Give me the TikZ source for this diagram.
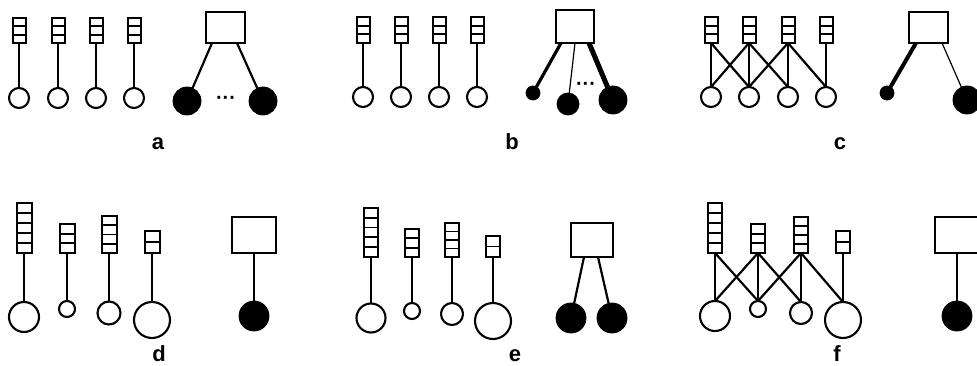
\documentclass[tikz,border=0pt]{standalone}
\usepackage{fontspec}
\setmainfont{Liberation Sans}
\usetikzlibrary{calc}
\tikzset{
  stackbox/.style={draw, line width=2pt, inner sep=0pt, outer sep=0pt, fill=white},
  divider/.style={line width=1.8pt},
  ocirc/.style={circle, draw, line width=2.1pt, inner sep=0pt, outer sep=0pt, fill=white},
  fcirc/.style={circle, draw, fill=black, line width=0.8pt, inner sep=0pt, outer sep=0pt},
  bigbox/.style={rectangle, draw, line width=2.3pt, inner sep=0pt, outer sep=0pt},
  conn/.style={line width=2.2pt},
  dotsn/.style={inner sep=0pt, font=\fontsize{20}{22}\selectfont\bfseries},
  lab/.style={anchor=base, inner sep=0pt, font=\fontsize{22}{26}\selectfont\bfseries}
}
\newcommand\stk[6]{%
  \pgfmathsetmacro\stkh{#4-#3}%
  \pgfmathsetmacro\stkc{(#3+#4)/2}%
  \node[stackbox, minimum width=#6pt, minimum height=\stkh pt] (#1) at (#2,\stkc) {};
  \pgfmathtruncatemacro\stkm{#5-1}%
  \foreach \k in {1,...,\stkm}{\draw[divider] ($(#1.north west)!\k/#5!(#1.south west)$) -- ($(#1.north east)!\k/#5!(#1.south east)$);}%
}
\begin{document}
\begin{tikzpicture}[x=1pt,y=-1pt]
\useasboundingbox (0,0) rectangle (977,366);
% ---------------- panel a
\stk{sa1}{19}{18}{43}{3}{13}
\stk{sa2}{58}{18}{43}{3}{13}
\stk{sa3}{96}{18}{43}{3}{13}
\stk{sa4}{134}{18}{43}{3}{13}
\foreach \i/\x in {1/19,2/58,3/96,4/134}{
  \node[ocirc, minimum size=20pt] (oa\i) at (\x,98) {};
  \draw[conn] (sa\i.south) -- (oa\i.north);
}
\node[bigbox, minimum width=39pt, minimum height=31pt] (ba) at (225.5,27.5) {};
\node[fcirc, minimum size=28pt] (qa1) at (187,101) {};
\node[fcirc, minimum size=28pt] (qa2) at (263,101) {};
\draw[conn] ([xshift=6pt]ba.south west) -- (qa1);
\draw[conn] ([xshift=-8pt]ba.south east) -- (qa2);
\node[dotsn] (ta) at (226,100) {···};
\node[lab] (la) at (158,150) {a};
% ---------------- panel b
\stk{sb1}{363}{17}{43}{3}{13}
\stk{sb2}{401}{17}{43}{3}{13}
\stk{sb3}{439}{17}{43}{3}{13}
\stk{sb4}{477}{17}{43}{3}{13}
\foreach \i/\x in {1/363,2/401,3/439,4/477}{
  \node[ocirc, minimum size=20pt] (ob\i) at (\x,97) {};
  \draw[conn] (sb\i.south) -- (ob\i.north);
}
\node[bigbox, minimum width=38pt, minimum height=33pt] (bb) at (575,26.5) {};
\node[fcirc, minimum size=14pt] (qb1) at (533,93) {};
\node[fcirc, minimum size=22pt] (qb2) at (568,104) {};
\node[fcirc, minimum size=28pt] (qb3) at (613,100) {};
\draw[line width=3.2pt] ([xshift=5pt]bb.south west) -- (qb1);
\draw[line width=1.2pt] (bb.south) -- (qb2);
\draw[line width=5pt] ([xshift=-5pt]bb.south east) -- (qb3);
\node[dotsn] (tb) at (586,86) {···};
\node[lab] (lb) at (512,150) {b};
% ---------------- panel c
\stk{sc1}{711}{17}{43}{3}{13}
\stk{sc2}{749}{17}{43}{3}{13}
\stk{sc3}{788}{17}{43}{3}{13}
\stk{sc4}{826}{17}{43}{3}{13}
\foreach \i/\x in {1/711,2/749,3/788,4/826}{
  \node[ocirc, minimum size=20pt] (oc\i) at (\x,97) {};
}
\foreach \s/\o in {1/1,1/2,2/1,2/2,2/3,3/2,3/3,3/4,4/4}{
  \draw[conn] (sc\s.south) -- (oc\o.north);
}
\node[bigbox, minimum width=39pt, minimum height=31pt] (bc) at (928.5,27.5) {};
\node[fcirc, minimum size=14pt] (qc1) at (887,93) {};
\node[fcirc, minimum size=28pt] (qc2) at (967,100) {};
\draw[line width=4pt] ([xshift=7pt]bc.south west) -- (qc1);
\draw[line width=1.2pt] ([xshift=-6pt]bc.south east) -- (qc2);
\node[lab] (lc) at (840,150) {c};
% ---------------- panel d
\stk{sd1}{24}{203}{253}{5}{15}
\stk{sd2}{67}{224}{253}{3}{15}
\stk{sd3}{109}{216}{253}{4}{15}
\stk{sd4}{152}{231}{253}{2}{15}
\node[ocirc, minimum size=30pt] (od1) at (24,317) {};
\node[ocirc, minimum size=16pt] (od2) at (67,309) {};
\node[ocirc, minimum size=23pt] (od3) at (109,313) {};
\node[ocirc, minimum size=36pt] (od4) at (152,320) {};
\foreach \i in {1,2,3,4}{\draw[conn] (sd\i.south) -- (od\i.north);}
\node[bigbox, minimum width=44pt, minimum height=36pt] (bd) at (254,235) {};
\node[fcirc, minimum size=30pt] (qd1) at (254,316) {};
\draw[conn] (bd.south) -- (qd1.north);
\node[lab] (ld) at (159,361) {d};
% ---------------- panel e
\stk{se1}{371}{208}{257}{5}{14}
\stk{se2}{412}{229}{257}{3}{14}
\stk{se3}{452}{223}{257}{4}{14}
\stk{se4}{493}{236}{257}{2}{14}
\node[ocirc, minimum size=29pt] (oe1) at (371,318) {};
\node[ocirc, minimum size=16pt] (oe2) at (412,311) {};
\node[ocirc, minimum size=22pt] (oe3) at (452,314) {};
\node[ocirc, minimum size=36pt] (oe4) at (493,321) {};
\foreach \i in {1,2,3,4}{\draw[conn] (se\i.south) -- (oe\i.north);}
\node[bigbox, minimum width=42pt, minimum height=34pt] (be) at (592,240) {};
\node[fcirc, minimum size=30pt] (qe1) at (571,318) {};
\node[fcirc, minimum size=30pt] (qe2) at (612,318) {};
\draw[conn] ([xshift=13pt]be.south west) -- (qe1);
\draw[conn] ([xshift=-15pt]be.south east) -- (qe2);
\node[lab] (le) at (515,361) {e};
% ---------------- panel f
\stk{sf1}{715}{203}{253}{5}{14}
\stk{sf2}{758}{224}{253}{3}{14}
\stk{sf3}{801}{217}{253}{4}{14}
\stk{sf4}{843}{231}{253}{2}{14}
\node[ocirc, minimum size=30pt] (of1) at (715,316) {};
\node[ocirc, minimum size=16pt] (of2) at (758,309) {};
\node[ocirc, minimum size=22pt] (of3) at (801,313) {};
\node[ocirc, minimum size=36pt] (of4) at (843,320) {};
\foreach \s/\o in {1/1,1/2,2/1,2/2,2/3,3/2,3/3,3/4,4/4}{
  \draw[conn] (sf\s.south) -- (of\o.north);
}
\node[bigbox, minimum width=44pt, minimum height=36pt] (bf) at (957,235) {};
\node[fcirc, minimum size=30pt] (qf1) at (957,316) {};
\draw[conn] (bf.south) -- (qf1.north);
\node[lab] (lf) at (837,361) {f};
\end{tikzpicture}
\end{document}
